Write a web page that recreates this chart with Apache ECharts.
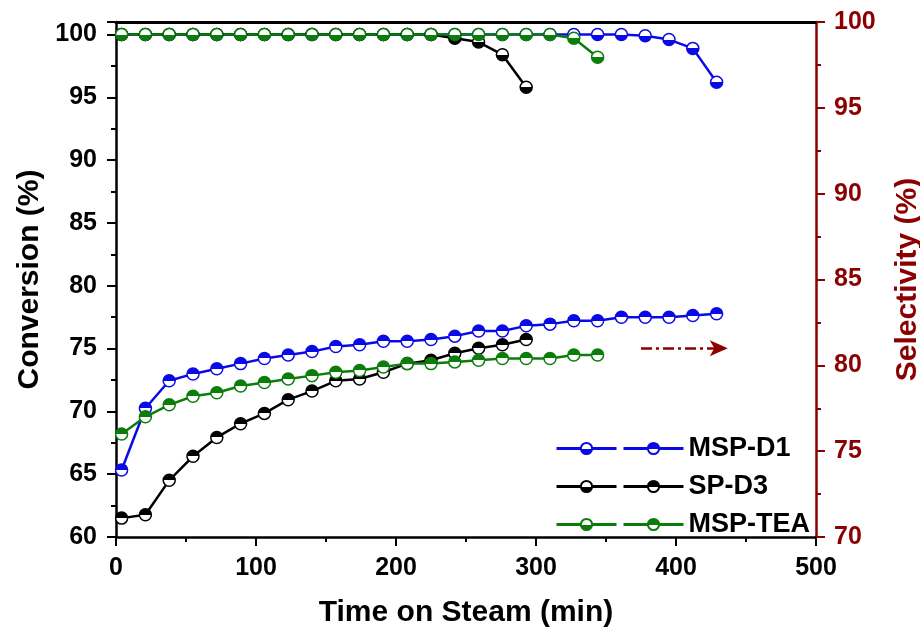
<!DOCTYPE html>
<html>
<head>
<meta charset="utf-8">
<script src="https://cdn.jsdelivr.net/npm/echarts@6/dist/echarts.min.js"></script>
<style>
  html, body { margin: 0; padding: 0; background: #fff; }
  #chart { width: 920px; height: 632px; }
</style>
</head>
<body>
<div id="chart"></div>
<script>
// Sampling times (min)
const timeD1  = [4, 21, 38, 55, 72, 89, 106, 123, 140, 157, 174, 191, 208, 225, 242, 259, 276, 293, 310, 327, 344, 361, 378, 395, 412, 429];
const timeD3  = [4, 21, 38, 55, 72, 89, 106, 123, 140, 157, 174, 191, 208, 225, 242, 259, 276, 293];
const timeTEA = [4, 21, 38, 55, 72, 89, 106, 123, 140, 157, 174, 191, 208, 225, 242, 259, 276, 293, 310, 327, 344];

// Conversion (%), left axis
const convD1  = [100, 100, 100, 100, 100, 100, 100, 100, 100, 100, 100, 100, 100, 100, 100, 100, 100, 100, 100, 100, 100, 100, 99.9, 99.6, 98.9, 96.2];
const convD3  = [100, 100, 100, 100, 100, 100, 100, 100, 100, 100, 100, 100, 100, 100, 99.7, 99.4, 98.4, 95.8];
const convTEA = [100, 100, 100, 100, 100, 100, 100, 100, 100, 100, 100, 100, 100, 100, 100, 100, 100, 100, 100, 99.7, 98.2];

// Selectivity (%), right axis
const selD1  = [73.9, 77.5, 79.1, 79.5, 79.8, 80.1, 80.4, 80.6, 80.8, 81.1, 81.2, 81.4, 81.4, 81.5, 81.7, 82.0, 82.0, 82.3, 82.4, 82.6, 82.6, 82.8, 82.8, 82.8, 82.9, 83.0];
const selD3  = [71.1, 71.3, 73.3, 74.7, 75.8, 76.6, 77.2, 78.0, 78.5, 79.1, 79.2, 79.6, 80.1, 80.3, 80.7, 81.0, 81.2, 81.5];
const selTEA = [76.0, 77.0, 77.7, 78.2, 78.4, 78.8, 79.0, 79.2, 79.4, 79.6, 79.7, 79.9, 80.1, 80.1, 80.2, 80.3, 80.4, 80.4, 80.4, 80.6, 80.6];

const catalysts = ['MSP-D1', 'SP-D3', 'MSP-TEA'];
const xTicks = { min: 0, max: 500, step: 100 };
const convTicks = { min: 60, max: 101, step: 5 };
const selTicks = { min: 70, max: 100, step: 5 };

const BLUE = '#0a0ae6', BLACK = '#000000', GREEN = '#0b7d0b', DARKRED = '#8b0000';
const FONT = '"Liberation Sans", Arial, sans-serif';

function pairs(xs, ys) { return xs.map((x, i) => [x, ys[i]]); }

// half-filled circle: fillBottom=true -> lower half coloured
function halfFill(color, fillBottom) {
  const a = fillBottom ? '#ffffff' : color;
  const b = fillBottom ? color : '#ffffff';
  return new echarts.graphic.LinearGradient(0, 0, 0, 1, [
    { offset: 0, color: a }, { offset: 0.5, color: a },
    { offset: 0.5, color: b }, { offset: 1, color: b }
  ]);
}

function makeSeries(name, xs, ys, color, yIdx, fillBottom, extra) {
  return Object.assign({
    name: name,
    type: 'line',
    yAxisIndex: yIdx,
    data: pairs(xs, ys),
    symbol: 'circle',
    symbolSize: 12,
    lineStyle: { color: color, width: 2.5 },
    itemStyle: { color: halfFill(color, fillBottom), borderColor: color, borderWidth: 1.5 },
    emphasis: { disabled: true },
    animation: false
  }, extra || {});
}

const colors = [BLUE, BLACK, GREEN];
const convData = [[timeD1, convD1], [timeD3, convD3], [timeTEA, convTEA]];
const selData = [[timeD1, selD1], [timeD3, selD3], [timeTEA, selTEA]];

const series = [];
catalysts.forEach((c, i) => {
  series.push(makeSeries(c + ' conversion', convData[i][0], convData[i][1], colors[i], 0, true));
});
catalysts.forEach((c, i) => {
  const extra = {};
  if (i === 2) {
    // arrow marking which axis the selectivity curves use
    extra.markLine = {
      silent: true,
      animation: false,
      label: { show: false },
      symbol: ['none', 'arrow'],
      lineStyle: { color: DARKRED, width: 2.5, type: [11, 4, 3, 4] },
      emphasis: { disabled: true },
      data: [[
        { coord: [375, 81], symbol: 'none' },
        { coord: [437, 81], symbol: 'arrow', symbolSize: [12, 18] }
      ]]
    };
  }
  series.push(makeSeries(c, selData[i][0], selData[i][1], colors[i], 1, false, extra));
});

const legendCommon = {
  orient: 'vertical',
  top: 430,
  itemWidth: 60,
  itemHeight: 14,
  itemGap: 11,
  selectedMode: false,
  lineStyle: { width: 3 },
  textStyle: { fontFamily: FONT, fontWeight: 'bold', fontSize: 27, lineHeight: 24, color: '#000' }
};

const chart = echarts.init(document.getElementById('chart'), null, { renderer: 'canvas' });
chart.setOption({
  backgroundColor: '#ffffff',
  animation: false,
  grid: { left: 116, right: 104, top: 22, bottom: 95, containLabel: false, outerBoundsMode: 'none' },
  legend: [
    Object.assign({}, legendCommon, {
      left: 550,
      data: catalysts.map(c => c + ' conversion'),
      formatter: () => ' '
    }),
    Object.assign({}, legendCommon, {
      left: 617,
      data: catalysts
    })
  ],
  xAxis: [{
    type: 'value',
    min: xTicks.min, max: xTicks.max, interval: xTicks.step,
    name: 'Time on Steam (min)',
    nameLocation: 'middle',
    nameGap: 61,
    nameTextStyle: { fontFamily: FONT, fontWeight: 'bold', fontSize: 30, color: '#000' },
    axisLine: { show: true, onZero: false, lineStyle: { color: '#000', width: 2.5 } },
    axisTick: { show: true, inside: false, length: 9, lineStyle: { color: '#000', width: 2 } },
    minorTick: { show: true, splitNumber: 2, length: 5, lineStyle: { color: '#000', width: 2 } },
    axisLabel: { margin: 19, fontFamily: FONT, fontWeight: 'bold', fontSize: 25, color: '#000' },
    splitLine: { show: false }
  }, {
    type: 'value',
    position: 'top',
    min: xTicks.min, max: xTicks.max,
    axisLine: { show: true, onZero: false, lineStyle: { color: '#000', width: 3 } },
    axisTick: { show: false },
    axisLabel: { show: false },
    splitLine: { show: false }
  }],
  yAxis: [{
    type: 'value',
    position: 'left',
    min: convTicks.min, max: convTicks.max, interval: convTicks.step,
    name: 'Conversion (%)',
    nameLocation: 'middle',
    nameGap: 70,
    nameRotate: 90,
    nameTextStyle: { fontFamily: FONT, fontWeight: 'bold', fontSize: 30, color: '#000' },
    axisLine: { show: true, onZero: false, lineStyle: { color: '#000', width: 2.5 } },
    axisTick: { show: true, inside: false, length: 9, lineStyle: { color: '#000', width: 2 } },
    minorTick: { show: true, splitNumber: 2, length: 5, lineStyle: { color: '#000', width: 2 } },
    axisLabel: {
      margin: 19, fontFamily: FONT, fontWeight: 'bold', fontSize: 25, color: '#000',
      formatter: v => (v % convTicks.step === 0 ? String(v) : '')
    },
    splitLine: { show: false }
  }, {
    type: 'value',
    position: 'right',
    min: selTicks.min, max: selTicks.max, interval: selTicks.step,
    name: 'Selectivity (%)',
    nameLocation: 'middle',
    nameGap: 77,
    nameRotate: 90,
    nameTextStyle: { fontFamily: FONT, fontWeight: 'bold', fontSize: 30, color: DARKRED },
    axisLine: { show: true, onZero: false, lineStyle: { color: DARKRED, width: 2.5 } },
    axisTick: { show: true, inside: false, length: 9, lineStyle: { color: DARKRED, width: 2 } },
    minorTick: { show: true, splitNumber: 2, length: 5, lineStyle: { color: DARKRED, width: 2 } },
    axisLabel: { margin: 18, fontFamily: FONT, fontWeight: 'bold', fontSize: 25, color: DARKRED },
    splitLine: { show: false }
  }],
  series: series
});
</script>
</body>
</html>
